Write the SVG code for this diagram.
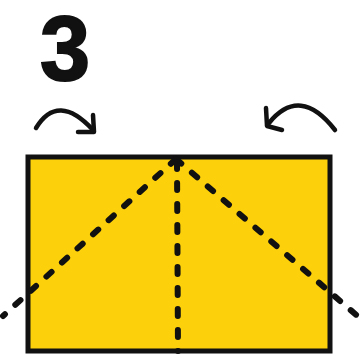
<svg xmlns="http://www.w3.org/2000/svg" width="364" height="356" viewBox="0 0 364 356">
<style>
.ink{fill:none;stroke:#111;stroke-linecap:round;stroke-linejoin:round}
.dash{fill:none;stroke:#111;stroke-width:6;stroke-dasharray:7 14;stroke-linecap:round}
</style>
<rect width="364" height="356" fill="#fff"/>
<g id="step-number">
<text x="65" y="80" font-family="Liberation Sans, Arial, sans-serif" font-weight="bold" font-size="90" text-anchor="middle" fill="#111" stroke="#111" stroke-width="2">3</text>
</g>
<g id="paper">
<rect x="28" y="157" width="302" height="194" fill="#FCD00A" stroke="#111" stroke-width="5"/>
</g>
<g id="connectors">
<path class="dash" d="M176 159 L3 316"/>
<path class="dash" d="M176 159 L361 319"/>
<path class="dash" d="M177 162 L178 351"/>
<path class="ink" stroke-width="4.5" d="M36 128 Q58 92 93 130"/>
<path class="ink" stroke-width="4.5" d="M93 115 L94 132 L78 132"/>
<path class="ink" stroke-width="4.5" d="M335 130 Q300 85 269 123"/>
<path class="ink" stroke-width="4.5" d="M266 108 L267 126 L282 130"/>
</g>
</svg>
